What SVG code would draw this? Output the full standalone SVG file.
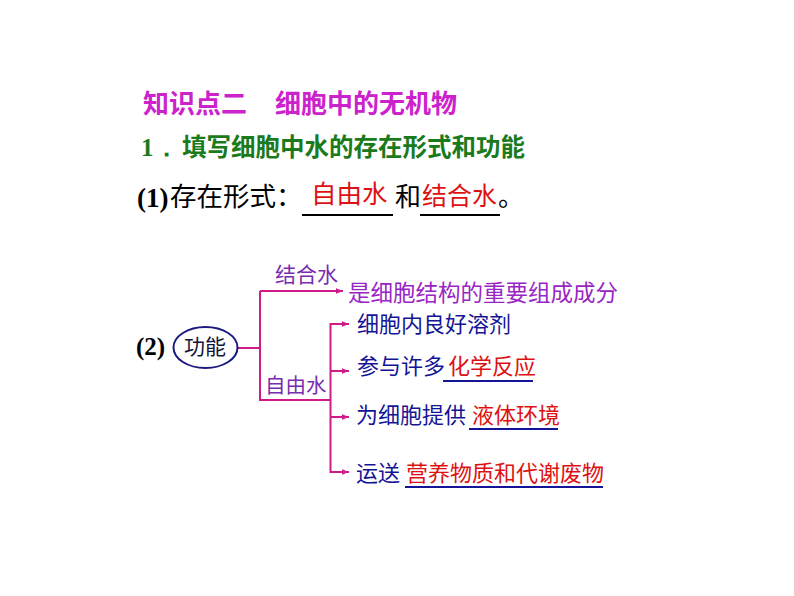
<svg xmlns="http://www.w3.org/2000/svg" width="794" height="596" viewBox="0 0 794 596">
<style>
.cjk{font-family:"Noto Sans CJK SC","Noto Sans",sans-serif}
.ser{font-family:"Liberation Serif",serif;font-weight:bold}
.con{stroke:#d01a88;stroke-width:2;fill:none}
.ul{stroke-width:2.2;fill:none}
.blue{fill:#141496}
.red{fill:#dd1111}
.pur{fill:#7a2cb0}
</style>
<defs>
<marker id="ah" viewBox="0 0 10 10" refX="10" refY="5" markerWidth="7" markerHeight="7" markerUnits="userSpaceOnUse" orient="auto">
<path d="M0,1 L10,5 L0,9 Z" fill="#d01a88"/>
</marker>
</defs>
<rect width="794" height="596" fill="#ffffff"/>
<g id="title">
<text class="cjk" x="143" y="113" font-size="26" font-weight="bold" fill="#cc22cc">知识点二</text>
<text class="cjk" x="275" y="113" font-size="26" font-weight="bold" fill="#cc22cc">细胞中的无机物</text>
</g>
<g id="heading1">
<text class="ser" x="141" y="156" font-size="25" fill="#1b7a1b">1．</text>
<text class="cjk" x="182" y="156" font-size="24.5" font-weight="bold" fill="#1b7a1b">填写细胞中水的存在形式和功能</text>
</g>
<g id="q1">
<text class="ser" x="137" y="207" font-size="27" fill="#000">(1)</text>
<text class="cjk" x="170" y="206" font-size="26.5" fill="#000">存在形式：</text>
<text class="cjk red" x="311" y="203" font-size="25.5">自由水</text>
<line class="ul" x1="302" y1="215" x2="393" y2="215" stroke="#000"/>
<text class="cjk" x="395" y="206" font-size="26" fill="#000">和</text>
<text class="cjk red" x="422" y="205" font-size="25">结合水</text>
<line class="ul" x1="420" y1="215" x2="500" y2="215" stroke="#000"/>
<text class="cjk" x="498" y="206" font-size="26" fill="#000">。</text>
</g>
<g id="connectors">
<polyline class="con" points="238,348 260,348"/>
<polyline class="con" points="260,291 260,400 330,400"/>
<line class="con" x1="260" y1="291" x2="343" y2="291" marker-end="url(#ah)"/>
<line class="con" x1="330.5" y1="323" x2="330.5" y2="473"/>
<line class="con" x1="330" y1="324" x2="349" y2="324" marker-end="url(#ah)"/>
<line class="con" x1="330" y1="371" x2="349" y2="371" marker-end="url(#ah)"/>
<line class="con" x1="330" y1="417" x2="349" y2="417" marker-end="url(#ah)"/>
<line class="con" x1="330" y1="472" x2="349" y2="472" marker-end="url(#ah)"/>
</g>
<g id="label2">
<text class="ser" x="136" y="355" font-size="25" fill="#000">(2)</text>
</g>
<g id="node-gongneng">
<ellipse cx="205.5" cy="347.5" rx="32" ry="20.5" fill="none" stroke="#1a1a80" stroke-width="2"/>
<text class="cjk" x="205" y="354" font-size="21" fill="#14143c" text-anchor="middle">功能</text>
</g>
<g id="node-jiehe">
<text class="cjk pur" x="275" y="282" font-size="21">结合水</text>
</g>
<g id="node-ziyou">
<text class="cjk pur" x="265" y="393" font-size="20.5">自由水</text>
</g>
<g id="node-structure">
<text class="cjk" x="348" y="301" font-size="22.5" fill="#9926c4">是细胞结构的重要组成成分</text>
</g>
<g id="node-solvent">
<text class="cjk blue" x="357" y="332" font-size="22">细胞内良好溶剂</text>
</g>
<g id="node-reaction">
<text class="cjk blue" x="357" y="374" font-size="22">参与许多</text>
<text class="cjk red" x="448" y="374" font-size="22">化学反应</text>
<line class="ul" x1="443" y1="381" x2="533" y2="381" stroke="#141496"/>
</g>
<g id="node-env">
<text class="cjk blue" x="356" y="423" font-size="22">为细胞提供</text>
<text class="cjk red" x="472" y="423" font-size="22">液体环境</text>
<line class="ul" x1="469" y1="429" x2="558" y2="429" stroke="#141496"/>
</g>
<g id="node-transport">
<text class="cjk blue" x="356" y="481" font-size="22">运送</text>
<text class="cjk red" x="406" y="481" font-size="22">营养物质和代谢废物</text>
<line class="ul" x1="405" y1="487" x2="603" y2="487" stroke="#141496"/>
</g>
</svg>
